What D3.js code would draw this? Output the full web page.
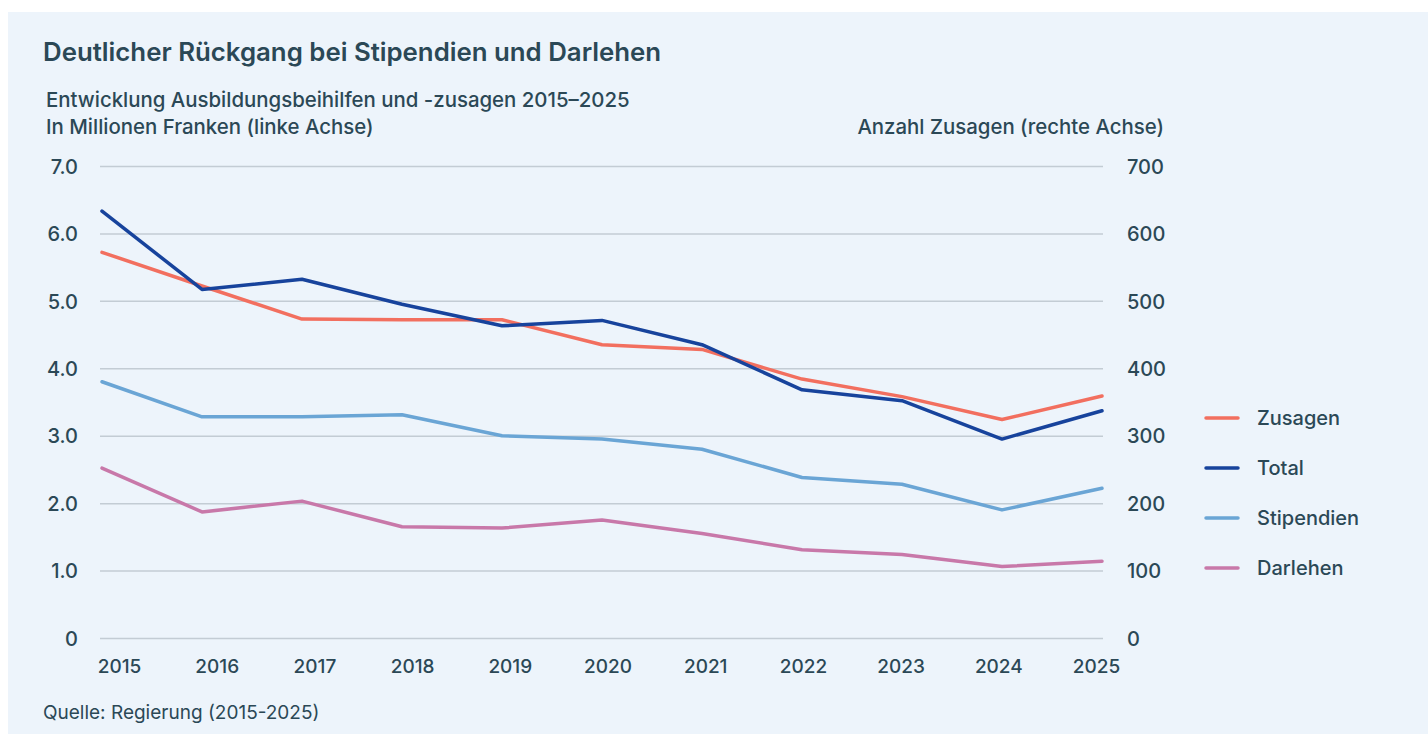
<!DOCTYPE html>
<html>
<head>
<meta charset="utf-8">
<script src="https://cdn.jsdelivr.net/npm/d3@7"></script>
<style>
  body { margin: 0; background: #ffffff; }
  text { font-family: "Inter", "Noto Sans", sans-serif; fill: #2b4856; }
</style>
</head>
<body>
<svg id="chart"></svg>
<script>
// Years on the x axis
const years = [2015, 2016, 2017, 2018, 2019, 2020, 2021, 2022, 2023, 2024, 2025];
// Millions of francs (left axis)
const total = [6.33, 5.17, 5.32, 4.95, 4.63, 4.71, 4.35, 3.68, 3.52, 2.95, 3.37];
const stipendien = [3.80, 3.28, 3.28, 3.31, 3.00, 2.95, 2.80, 2.38, 2.28, 1.90, 2.22];
const darlehen = [2.52, 1.87, 2.03, 1.65, 1.63, 1.75, 1.55, 1.31, 1.24, 1.06, 1.14];
// Number of commitments (right axis)
const zusagen = [572, 522, 473, 472, 472, 435, 428, 384, 358, 324, 359];
// Tick labels
const leftTicks = [0, 1, 2, 3, 4, 5, 6, 7];
const rightTicks = [0, 100, 200, 300, 400, 500, 600, 700];
const seriesNames = ['Zusagen', 'Total', 'Stipendien', 'Darlehen'];
const seriesColors = ['#f26f5f', '#17439c', '#6aa5d5', '#c878a9'];

class DualAxisLines {
  constructor(_config) {
    this.config = {
      parentElement: _config.parentElement,
      containerWidth: _config.containerWidth || 1428,
      containerHeight: _config.containerHeight || 734,
      margin: { top: 166, bottom: 96, right: 326, left: 102 }
    }
    this.initVis();
  }

  initVis() {
    let vis = this;
    vis.width = vis.config.containerWidth - vis.config.margin.left - vis.config.margin.right;
    vis.height = vis.config.containerHeight - vis.config.margin.top - vis.config.margin.bottom;

    vis.svg = d3.select(vis.config.parentElement)
        .attr('width', vis.config.containerWidth)
        .attr('height', vis.config.containerHeight);

    // light blue panel
    vis.svg.append('rect')
        .attr('x', 8)
        .attr('y', 12)
        .attr('width', vis.config.containerWidth - 8)
        .attr('height', vis.config.containerHeight - 12)
        .attr('fill', '#edf4fb');

    // Title
    vis.svg.append('text')
        .attr('x', 43)
        .attr('y', 61)
        .style('font-size', '25.8px')
        .style('font-weight', 600)
        .text('Deutlicher Rückgang bei Stipendien und Darlehen');

    vis.svg.append('text')
        .attr('x', 46)
        .attr('y', 107)
        .style('font-size', '20.4px')
        .style('font-weight', 500)
        .text('Entwicklung Ausbildungsbeihilfen und -zusagen 2015–2025');

    vis.svg.append('text')
        .attr('x', 46)
        .attr('y', 134)
        .style('font-size', '20.4px')
        .style('font-weight', 500)
        .text('In Millionen Franken (linke Achse)');

    vis.svg.append('text')
        .attr('x', 1164)
        .attr('y', 134)
        .attr('text-anchor', 'end')
        .style('font-size', '20.4px')
        .style('font-weight', 500)
        .text('Anzahl Zusagen (rechte Achse)');

    // Source
    vis.svg.append('text')
        .attr('x', 43)
        .attr('y', 719)
        .style('font-size', '19px')
        .text('Quelle: Regierung (2015-2025)');

    vis.chart = vis.svg.append('g')
        .attr('transform', `translate(${vis.config.margin.left},${vis.config.margin.top})`);

    vis.updateVis();
  }

  updateVis() {
    let vis = this;

    vis.xScale = d3.scaleLinear()
        .domain([years[0], years[years.length - 1]])
        .range([0, vis.width]);

    // labels drift a bit from the points in the original
    vis.xLabelScale = d3.scaleLinear()
        .domain([years[0], years[years.length - 1]])
        .range([17, vis.width - 6]);

    vis.yLeft = d3.scaleLinear()
        .domain([0, 7])
        .range([vis.height, 0]);

    vis.yRight = d3.scaleLinear()
        .domain([0, 700])
        .range([vis.height, 0]);

    // gridlines
    vis.chart.append('g')
        .attr('class', 'grid')
        .call(d3.axisLeft(vis.yLeft)
          .tickValues(leftTicks)
          .tickSize(-(vis.width + 3))
          .tickFormat(''))
        .attr('transform', 'translate(-2,0)')
        .call(g => g.select('.domain').remove())
        .call(g => g.selectAll('line')
          .attr('stroke', '#c3ccd4')
          .attr('stroke-width', 1.5));

    // left axis labels
    vis.chart.append('g')
        .attr('class', 'y-axis-left')
        .attr('transform', 'translate(-24,0)')
        .call(d3.axisLeft(vis.yLeft)
          .tickValues(leftTicks)
          .tickSize(0)
          .tickPadding(0)
          .tickFormat(d => d === 0 ? '0' : d3.format('.1f')(d)))
        .call(g => g.select('.domain').remove())
        .selectAll('text')
        .style('font-size', '20px')
        .style('font-weight', 500)
        .style('fill', '#2b4856')
        .attr('dy', '0.36em');

    // right axis labels
    vis.chart.append('g')
        .attr('class', 'y-axis-right')
        .attr('transform', `translate(${vis.width + 25},0)`)
        .call(d3.axisRight(vis.yRight)
          .tickValues(rightTicks)
          .tickSize(0)
          .tickPadding(0))
        .call(g => g.select('.domain').remove())
        .selectAll('text')
        .attr('x', 0)
        .attr('text-anchor', 'start')
        .style('font-size', '20px')
        .style('font-weight', 500)
        .style('fill', '#2b4856')
        .attr('dy', '0.36em');

    // x axis labels
    vis.chart.append('g')
        .attr('class', 'x-axis')
        .attr('transform', `translate(0,${vis.height})`)
        .call(d3.axisBottom(vis.xLabelScale)
          .tickValues(years)
          .tickSize(0)
          .tickPadding(22)
          .tickFormat(d3.format('d')))
        .call(g => g.select('.domain').remove())
        .selectAll('text')
        .style('font-size', '19px')
        .style('font-weight', 500)
        .style('fill', '#2b4856');

    let lineLeft = d3.line()
        .x((d, i) => vis.xScale(years[i]))
        .y(d => vis.yLeft(d));

    let lineRight = d3.line()
        .x((d, i) => vis.xScale(years[i]))
        .y(d => vis.yRight(d));

    let series = [
      { name: 'Darlehen', values: darlehen, line: lineLeft },
      { name: 'Stipendien', values: stipendien, line: lineLeft },
      { name: 'Zusagen', values: zusagen, line: lineRight },
      { name: 'Total', values: total, line: lineLeft }
    ];

    vis.chart.selectAll('.series')
      .data(series)
      .join('path')
      .attr('class', 'series')
      .attr('fill', 'none')
      .attr('stroke', d => seriesColors[seriesNames.indexOf(d.name)])
      .attr('stroke-width', 3.5)
      .attr('stroke-linejoin', 'round')
      .attr('stroke-linecap', 'round')
      .attr('d', d => d.line(d.values));

    vis.renderLegend();
  }

  renderLegend() {
    let vis = this;
    let legend = vis.svg.append('g')
        .attr('transform', 'translate(1206,418)');

    let items = legend.selectAll('.legend-item')
      .data(seriesNames)
      .join('g')
      .attr('class', 'legend-item')
      .attr('transform', (d, i) => `translate(0,${i * 50})`);

    items.append('line')
      .attr('x1', 0)
      .attr('x2', 32)
      .attr('stroke', (d, i) => seriesColors[i])
      .attr('stroke-width', 3.5)
      .attr('stroke-linecap', 'round');

    items.append('text')
      .attr('x', 51)
      .attr('dy', '0.35em')
      .style('font-size', '20px')
      .style('font-weight', 500)
      .text(d => d);
  }
}

new DualAxisLines({ parentElement: '#chart' });
</script>
</body>
</html>
